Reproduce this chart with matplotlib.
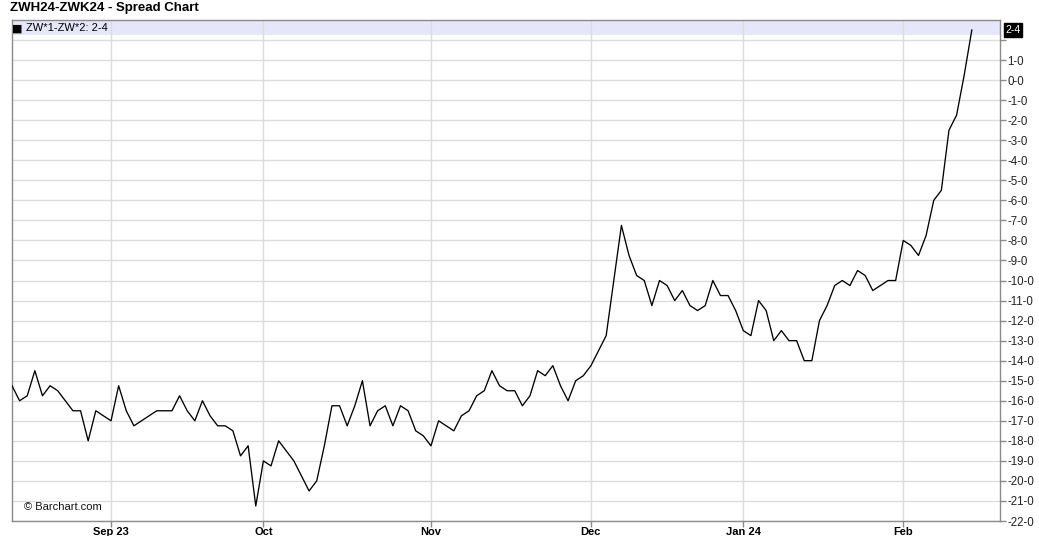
import matplotlib.pyplot as plt
from matplotlib.ticker import FixedLocator, FixedFormatter

plt.rcParams['font.family'] = ['Liberation Sans', 'DejaVu Sans']

# daily spread closes (cents), Aug 15 2023 .. Feb 14 2024, one per trading day
spread = [
    -15.25, -16.0, -15.75, -14.5, -15.75, -15.25, -15.5, -16.0, -16.5, -16.5,
    -18.0, -16.5, -16.75, -17.0, -15.25, -16.5, -17.25, -17.0, -16.75, -16.5,
    -16.5, -16.5, -15.75, -16.5, -17.0, -16.0, -16.75, -17.25, -17.25, -17.5,
    -18.75, -18.25, -21.25, -19.0, -19.25, -18.0, -18.5, -19.0, -19.75, -20.5,
    -20.0, -18.25, -16.25, -16.25, -17.25, -16.25, -15.0, -17.25, -16.5, -16.25,
    -17.25, -16.25, -16.5, -17.5, -17.75, -18.25, -17.0, -17.25, -17.5, -16.75,
    -16.5, -15.75, -15.5, -14.5, -15.25, -15.5, -15.5, -16.25, -15.75, -14.5,
    -14.75, -14.25, -15.25, -16.0, -15.0, -14.75, -14.25, -13.5, -12.75, -10.0,
    -7.25, -8.75, -9.75, -10.0, -11.25, -10.0, -10.25, -11.0, -10.5, -11.25,
    -11.5, -11.25, -10.0, -10.75, -10.75, -11.5, -12.5, -12.75, -11.0, -11.5,
    -13.0, -12.5, -13.0, -13.0, -14.0, -14.0, -12.0, -11.25, -10.25, -10.0,
    -10.25, -9.5, -9.75, -10.5, -10.25, -10.0, -10.0, -8.0, -8.25, -8.75,
    -7.75, -6.0, -5.5, -2.5, -1.75, 0.25, 2.5,
]

# index of the first trading day of each month
month_idx = [13, 33, 55, 76, 96, 117]
month_labels = ['Sep 23', 'Oct', 'Nov', 'Dec', 'Jan 24', 'Feb']

y_ticks = list(range(-22, 3))
y_labels = ['%d-0' % v for v in range(-22, 2)] + ['']

fig = plt.figure(figsize=(10.39, 5.36), dpi=100)
ax = fig.add_axes([12 / 1039, 1 - 521 / 536, 988 / 1039, 501 / 536])

ax.plot(range(len(spread)), spread, color='black', lw=0.95, zorder=3)

ax.set_xlim(0, 129.7)
ax.set_ylim(-22, 3)

# legend band
ax.axhspan(2.25, 3, color='#e6e6fa', zorder=0.5, lw=0)

ax.xaxis.set_major_locator(FixedLocator(month_idx))
ax.xaxis.set_major_formatter(FixedFormatter(month_labels))
ax.yaxis.set_major_locator(FixedLocator(y_ticks))
ax.yaxis.set_major_formatter(FixedFormatter(y_labels))
ax.yaxis.tick_right()

ax.grid(True, color='#dcdcdc', lw=1.0, zorder=1)
ax.set_axisbelow(True)

for s in ax.spines.values():
    s.set_color('#8a8a8a')
    s.set_linewidth(1.0)

ax.tick_params(axis='y', length=4, width=1, color='#8a8a8a', labelsize=8.3,
               labelcolor='#222222', pad=1.5)
ax.tick_params(axis='x', length=4, width=1, color='#8a8a8a', labelsize=8,
               pad=0.3)
for t in ax.get_xticklabels():
    t.set_fontweight('bold')

fig.text(10 / 1039, 1 - 8 / 536, 'ZWH24-ZWK24 - Spread Chart', fontsize=9.5,
         fontweight='bold', va='center', ha='left')

ax.text(0.004, 2.58, '\u25a0', fontsize=8, va='center', ha='left',
        family=['DejaVu Sans'])
ax.text(1.9, 2.58, 'ZW*1-ZW*2: 2-4', fontsize=8, va='center', ha='left')

ax.text(1.6, -21.3, '\u00a9 Barchart.com', fontsize=8, va='center',
        ha='left', color='#111111')

# last value badge
ax.annotate('2-4', xy=(1.0, 2.5), xycoords=('axes fraction', 'data'),
            xytext=(4, 0), textcoords='offset points', fontsize=7.5,
            color='white', va='center', ha='left',
            bbox=dict(boxstyle='square,pad=0.15', fc='black', ec='black'))

fig.savefig('out.png', dpi=100)
